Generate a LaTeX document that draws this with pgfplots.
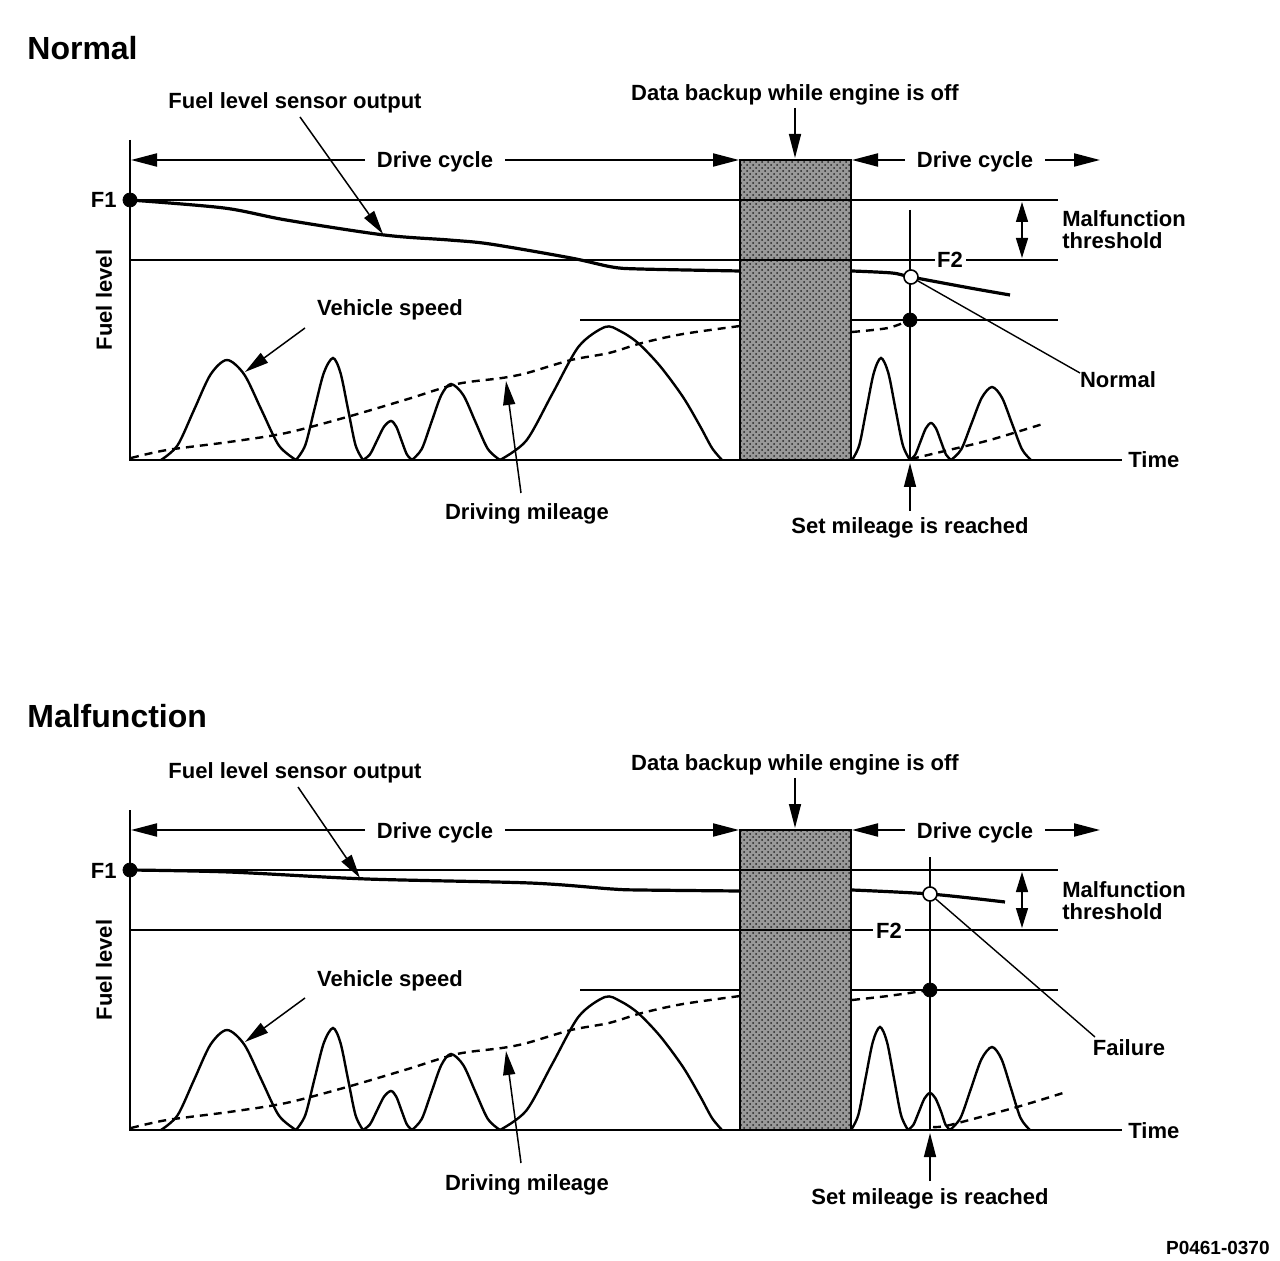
\documentclass[border=0pt]{standalone}
\usepackage{fontspec}
\setmainfont{Liberation Sans}
\usepackage{pgfplots}
\pgfplotsset{compat=1.18}
\usetikzlibrary{arrows.meta, patterns}

\tikzset{
  lbl/.style={font=\fontsize{11}{13}\selectfont\bfseries, inner sep=0pt},
  ttl/.style={font=\fontsize{16}{19}\selectfont\bfseries, inner sep=0pt},
  ptr/.style={line width=0.75pt, -{Triangle[length=12pt,width=6pt]}},
  dc/.style={line width=1pt, -{Triangle[length=13pt,width=6.5pt]}},
  dbl/.style={line width=0.75pt, {Triangle[length=10pt,width=6pt]}-{Triangle[length=10pt,width=6pt]}},
}
\pgfplotsset{
  panel/.style={scale only axis, width=640pt, height=315pt, xmin=0, xmax=1280,
                y dir=reverse, hide axis, clip=false, anchor=south west, set layers},
  guide/.style={black, line width=1pt, no markers},
  thin/.style={black, line width=0.7pt, no markers},
  speed/.style={black, line width=1.2pt, smooth, tension=0.5, no markers},
  fuel/.style={black, line width=1.6pt, smooth, no markers},
  mileage/.style={black, line width=1.2pt, dash pattern=on 4pt off 3pt, smooth, no markers},
  backup/.style={draw=black, line width=0.6pt, fill=black!40,
                 postaction={pattern=crosshatch dots, pattern color=black!85},
                 on layer=axis background},
  dot/.style={only marks, mark=*, mark size=3.5pt, black},
  odot/.style={only marks, mark=*, mark size=3.5pt, mark options={draw=black, fill=white, line width=0.8pt}},
}

\begin{document}
\begin{tikzpicture}
% ---------------- Normal ----------------
\begin{axis}[panel, at={(0,315pt)}, ymin=0, ymax=630]
  \addplot[backup] coordinates {(740,160)(851,160)(851,460)(740,460)} -- cycle;
  \addplot[guide] coordinates {(580,320)(740,320)};
  \addplot[guide] coordinates {(851,320)(1058,320)};
  \addplot[guide] coordinates {(130,140)(130,460)(1122,460)};
  \addplot[guide] coordinates {(130,200)(1058,200)};
  \addplot[guide] coordinates {(130,260)(935,260)};
  \addplot[guide] coordinates {(966,260)(1058,260)};
  \addplot[thin] coordinates {(910,210)(910,460)};
  % vehicle speed
  \addplot[speed] coordinates {(161,460)(177.5,445.4)(194,410)(210.5,374.6)(227,360)(244.3,374.6)(261.5,410)(278.8,445.4)(296,460)};
  \addplot[speed] coordinates {(296,460)(305.3,445.1)(314.5,409)(323.8,372.9)(333,358)(340.5,372.9)(348,409)(355.5,445.1)(363,460)};
  \addplot[speed] coordinates {(363,460)(370,454.3)(377,440.5)(384,426.7)(391,421)(396.3,426.7)(401.5,440.5)(406.8,454.3)(412,460)};
  \addplot[speed] coordinates {(412,460)(421.8,448.9)(431.5,422)(441.3,395.1)(451,384)(463.3,395.1)(475.5,422)(487.8,448.9)(500,460)};
  \addplot[speed] coordinates {(500,460)(526.3,440.6)(552.5,393.5)(578.8,346.4)(605,327)(620,331)(638,343)(660,366)(683,397)(700,426)(712,448)(722,460)};
  \addplot[speed] coordinates {(852,460)(859.3,445.1)(866.5,409)(873.8,372.9)(881,358)(888.3,372.9)(895.5,409)(902.8,445.1)(910,460)};
  \addplot[speed] coordinates {(910,460)(915.3,454.6)(920.5,441.5)(925.8,428.4)(931,423)(936,428.4)(941,441.5)(946,454.6)(951,460)};
  \addplot[speed] coordinates {(951,460)(961.3,449.3)(971.5,423.5)(981.8,397.7)(992,387)(1002,397.7)(1012,423.5)(1022,449.3)(1031,460)};
  % driving mileage
  \addplot[mileage] coordinates {(131,458)(167,450)(229,442)(286,433)(347,417)(408,399)(457,384)(502,378)(527,373)(571,360)(609,353)(642,343)(683,334)(740,326)};
  \addplot[mileage] coordinates {(852,332)(888,328)(910,320)};
  \addplot[mileage] coordinates {(911,459)(949,450)(990,440)(1046,423)};
  % fuel level sensor output
  \addplot[fuel] coordinates {(130,200)(224,208)(286,220)(384,235)(449,240)(490,244)(571,258)(612,267)(640,269)(740,271)};
  \addplot[fuel] coordinates {(852,271)(892,273)(911,277)(970,288)(1010,295)};
  \addplot[thin] coordinates {(911,277)(1080,373)};
  \addplot[dot] coordinates {(130,200)(910,320)};
  \addplot[odot] coordinates {(911,277)};
  % annotations
  \draw[dc] (axis cs:365,160) -- (axis cs:131,160);
  \draw[dc] (axis cs:505,160) -- (axis cs:739,160);
  \draw[dc] (axis cs:905,160) -- (axis cs:852,160);
  \draw[dc] (axis cs:1045,160) -- (axis cs:1100,160);
  \draw[ptr] (axis cs:795,108) -- (axis cs:795,158);
  \draw[ptr] (axis cs:300,117) -- (axis cs:383,234);
  \draw[ptr] (axis cs:305,328) -- (axis cs:245,372);
  \draw[ptr] (axis cs:521,493) -- (axis cs:506,381);
  \draw[ptr] (axis cs:910,511) -- (axis cs:910,463);
  \draw[dbl] (axis cs:1022,202) -- (axis cs:1022,258);
  \node[ttl, anchor=base west] at (axis cs:27,60) {Normal};
  \node[lbl, anchor=base] at (axis cs:295,109) {Fuel level sensor output};
  \node[lbl, anchor=base] at (axis cs:795,101) {Data backup while engine is off};
  \node[lbl, anchor=base] at (axis cs:435,168) {Drive cycle};
  \node[lbl, anchor=base] at (axis cs:975,168) {Drive cycle};
  \node[lbl, anchor=base east] at (axis cs:117,208) {F1};
  \node[lbl, anchor=base] at (axis cs:950,268) {F2};
  \node[lbl, anchor=base west] at (axis cs:1062,227) {Malfunction};
  \node[lbl, anchor=base west] at (axis cs:1062,249) {threshold};
  \node[lbl, anchor=base] at (axis cs:390,316) {Vehicle speed};
  \node[lbl, anchor=base] at (axis cs:1118,388) {Normal};
  \node[lbl, anchor=base west] at (axis cs:1128,468) {Time};
  \node[lbl, anchor=base] at (axis cs:527,520) {Driving mileage};
  \node[lbl, anchor=base] at (axis cs:910,534) {Set mileage is reached};
  \node[lbl, rotate=90] at (axis cs:104,300) {Fuel level};
\end{axis}

% ---------------- Malfunction ----------------
\begin{axis}[panel, at={(0,0)}, ymin=-40, ymax=590]
  \addplot[backup] coordinates {(740,160)(851,160)(851,460)(740,460)} -- cycle;
  \addplot[guide] coordinates {(580,320)(740,320)};
  \addplot[guide] coordinates {(851,320)(1058,320)};
  \addplot[guide] coordinates {(130,140)(130,460)(1122,460)};
  \addplot[guide] coordinates {(130,200)(1058,200)};
  \addplot[guide] coordinates {(130,260)(873,260)};
  \addplot[guide] coordinates {(905,260)(1058,260)};
  \addplot[thin] coordinates {(930,187)(930,460)};
  % vehicle speed
  \addplot[speed] coordinates {(161,460)(177.5,445.4)(194,410)(210.5,374.6)(227,360)(244.3,374.6)(261.5,410)(278.8,445.4)(296,460)};
  \addplot[speed] coordinates {(296,460)(305.3,445.1)(314.5,409)(323.8,372.9)(333,358)(340.5,372.9)(348,409)(355.5,445.1)(363,460)};
  \addplot[speed] coordinates {(363,460)(370,454.3)(377,440.5)(384,426.7)(391,421)(396.3,426.7)(401.5,440.5)(406.8,454.3)(412,460)};
  \addplot[speed] coordinates {(412,460)(421.8,448.9)(431.5,422)(441.3,395.1)(451,384)(463.3,395.1)(475.5,422)(487.8,448.9)(500,460)};
  \addplot[speed] coordinates {(500,460)(526.3,440.6)(552.5,393.5)(578.8,346.4)(605,327)(620,331)(638,343)(660,366)(683,397)(700,426)(712,448)(722,460)};
  \addplot[speed] coordinates {(851,460)(858.3,445)(865.5,408.5)(872.8,372)(880,357)(887,372)(894,408.5)(901,445)(908,460)};
  \addplot[speed] coordinates {(908,460)(913.5,454.6)(919,441.5)(924.5,428.4)(930,423)(935.5,428.4)(941,441.5)(945.5,454.6)(950,460)};
  \addplot[speed] coordinates {(950,460)(960.5,447.9)(971,418.5)(981.5,389.1)(992,377)(1001.5,389.1)(1011,418.5)(1020.5,447.9)(1030,460)};
  % driving mileage
  \addplot[mileage] coordinates {(131,458)(167,450)(229,442)(286,433)(347,417)(408,399)(457,384)(502,378)(527,373)(571,360)(609,353)(642,343)(683,334)(740,326)};
  \addplot[mileage] coordinates {(852,330)(888,326)(930,320)};
  \addplot[mileage] coordinates {(933,457)(950,455)(1017,437)(1063,423)};
  % fuel level sensor output
  \addplot[fuel] coordinates {(130,200)(229,202)(367,209)(530,213)(612,219)(640,220)(740,221)};
  \addplot[fuel] coordinates {(852,220)(930,224)(1005,232)};
  \addplot[thin] coordinates {(930,224)(1095,367)};
  \addplot[dot] coordinates {(130,200)(930,320)};
  \addplot[odot] coordinates {(930,224)};
  % annotations
  \draw[dc] (axis cs:365,160) -- (axis cs:131,160);
  \draw[dc] (axis cs:505,160) -- (axis cs:739,160);
  \draw[dc] (axis cs:905,160) -- (axis cs:852,160);
  \draw[dc] (axis cs:1045,160) -- (axis cs:1100,160);
  \draw[ptr] (axis cs:795,108) -- (axis cs:795,158);
  \draw[ptr] (axis cs:298,117) -- (axis cs:360,208);
  \draw[ptr] (axis cs:305,328) -- (axis cs:245,372);
  \draw[ptr] (axis cs:521,493) -- (axis cs:506,381);
  \draw[ptr] (axis cs:930,511) -- (axis cs:930,463);
  \draw[dbl] (axis cs:1022,202) -- (axis cs:1022,258);
  \node[ttl, anchor=base west] at (axis cs:27,58) {Malfunction};
  \node[lbl, anchor=base] at (axis cs:295,109) {Fuel level sensor output};
  \node[lbl, anchor=base] at (axis cs:795,101) {Data backup while engine is off};
  \node[lbl, anchor=base] at (axis cs:435,168) {Drive cycle};
  \node[lbl, anchor=base] at (axis cs:975,168) {Drive cycle};
  \node[lbl, anchor=base east] at (axis cs:117,208) {F1};
  \node[lbl, anchor=base] at (axis cs:889,268) {F2};
  \node[lbl, anchor=base west] at (axis cs:1062,227) {Malfunction};
  \node[lbl, anchor=base west] at (axis cs:1062,249) {threshold};
  \node[lbl, anchor=base] at (axis cs:390,316) {Vehicle speed};
  \node[lbl, anchor=base] at (axis cs:1129,385) {Failure};
  \node[lbl, anchor=base west] at (axis cs:1128,468) {Time};
  \node[lbl, anchor=base] at (axis cs:527,520) {Driving mileage};
  \node[lbl, anchor=base] at (axis cs:930,534) {Set mileage is reached};
  \node[lbl, rotate=90] at (axis cs:104,300) {Fuel level};
  \node[lbl, anchor=base east, font=\fontsize{9.5}{11}\selectfont\bfseries] at (axis cs:1270,584) {P0461-0370};
\end{axis}
\pgfresetboundingbox
\path (0,0) rectangle (640pt,630pt);
\end{tikzpicture}
\end{document}
